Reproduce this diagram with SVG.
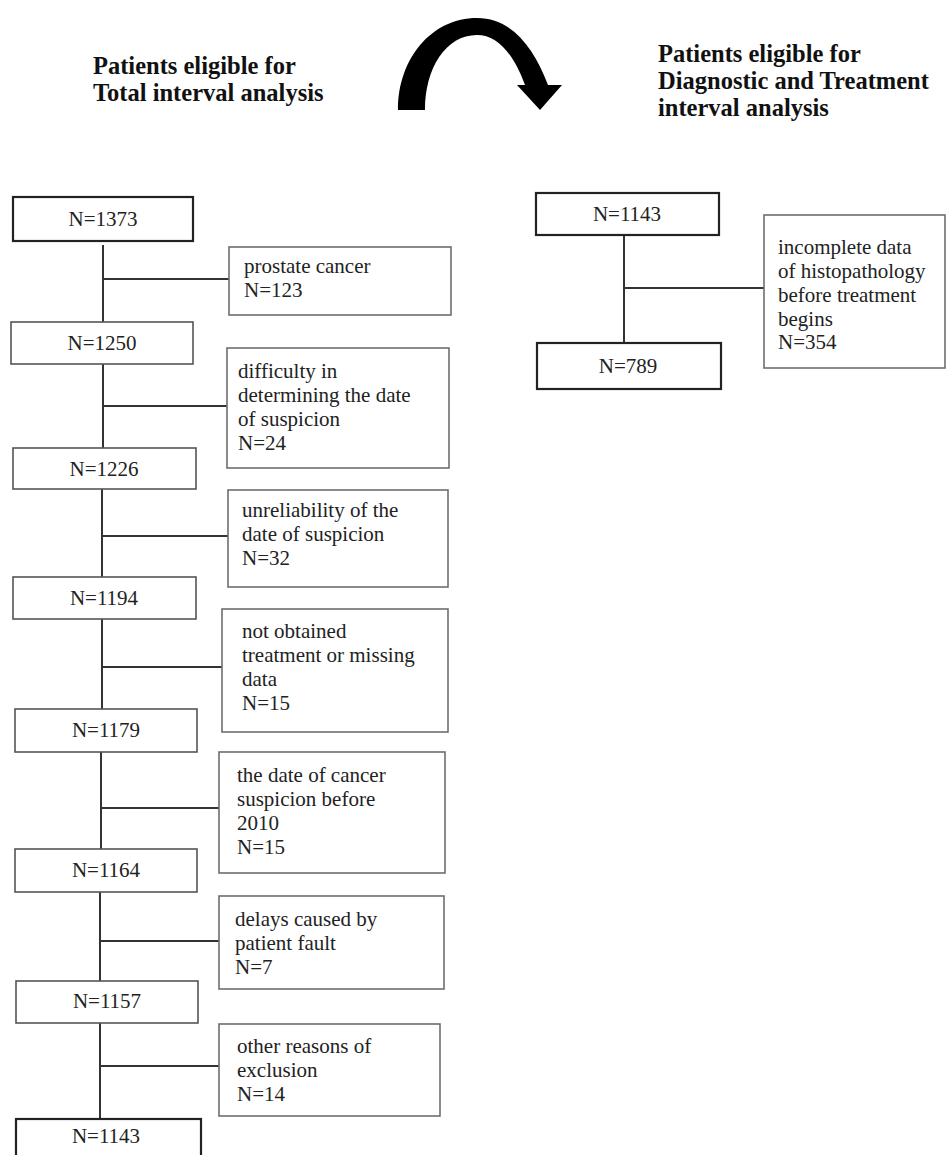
<svg xmlns="http://www.w3.org/2000/svg" width="946" height="1155" viewBox="0 0 946 1155">
<style>
.bg{fill:#ffffff}
.main{fill:#ffffff;stroke:#555;stroke-width:1.6}
.strong{fill:#ffffff;stroke:#222;stroke-width:2.2}
.side{fill:#ffffff;stroke:#6e6e6e;stroke-width:1.6}
.t{font-family:"Liberation Serif","Times New Roman",serif;font-size:21px;fill:#222}
.c{text-anchor:middle}
.h{font-family:"Liberation Serif","Times New Roman",serif;font-size:24.5px;font-weight:bold;fill:#111}
.ln{stroke:#333;stroke-width:2;fill:none}
</style>
<rect class="bg" x="0" y="0" width="946" height="1155"/>
<g id="title-left">
<text class="h" x="93" y="74">Patients eligible for</text>
<text class="h" x="93" y="101">Total interval analysis</text>
</g>
<g id="title-right">
<text class="h" x="658" y="62">Patients eligible for</text>
<text class="h" x="658" y="89">Diagnostic and Treatment</text>
<text class="h" x="658" y="116">interval analysis</text>
</g>
<g id="curved-arrow">
<path fill="#000" d="M398,110 C398,58 432,18 477,18 C512,18 534,48 548,85 L562,85 L540,110 L517,85 L525,85 C514,55 498,35 477,35 C446,35 425,68 425,110 Z"/>
</g>
<g id="connectors">
<line class="ln" x1="103" y1="245" x2="103" y2="322"/>
<line class="ln" x1="103" y1="279" x2="229" y2="279"/>
<line class="ln" x1="103" y1="364" x2="103" y2="448"/>
<line class="ln" x1="103" y1="406" x2="227" y2="406"/>
<line class="ln" x1="102" y1="489" x2="102" y2="577"/>
<line class="ln" x1="102" y1="536" x2="228" y2="536"/>
<line class="ln" x1="102" y1="619" x2="102" y2="709"/>
<line class="ln" x1="102" y1="667" x2="222" y2="667"/>
<line class="ln" x1="101" y1="752" x2="101" y2="849"/>
<line class="ln" x1="101" y1="808" x2="219" y2="808"/>
<line class="ln" x1="100" y1="892" x2="100" y2="981"/>
<line class="ln" x1="100" y1="941" x2="219" y2="941"/>
<line class="ln" x1="100" y1="1023" x2="100" y2="1119"/>
<line class="ln" x1="100" y1="1066" x2="219" y2="1066"/>
<line class="ln" x1="624" y1="235" x2="624" y2="343"/>
<line class="ln" x1="624" y1="288" x2="764" y2="288"/>
</g>
<g id="n1373"><rect class="strong" x="13" y="197" width="180" height="44"/><text class="t c" x="103" y="226">N=1373</text></g>
<g id="n1250"><rect class="main" x="11" y="322" width="182" height="42"/><text class="t c" x="102" y="350">N=1250</text></g>
<g id="n1226"><rect class="main" x="13" y="448" width="183" height="41"/><text class="t c" x="104" y="476">N=1226</text></g>
<g id="n1194"><rect class="main" x="13" y="577" width="183" height="42"/><text class="t c" x="104" y="605">N=1194</text></g>
<g id="n1179"><rect class="main" x="15" y="709" width="182" height="43"/><text class="t c" x="106" y="737">N=1179</text></g>
<g id="n1164"><rect class="main" x="15" y="849" width="182" height="43"/><text class="t c" x="106" y="877">N=1164</text></g>
<g id="n1157"><rect class="main" x="16" y="981" width="182" height="42"/><text class="t c" x="107" y="1008">N=1157</text></g>
<g id="n1143-left"><rect class="strong" x="16" y="1119" width="185" height="44"/><text class="t c" x="106" y="1143">N=1143</text></g>
<g id="ex-prostate"><rect class="side" x="229" y="247" width="222" height="68"/>
<text class="t" x="244" y="273">prostate cancer</text><text class="t" x="244" y="297">N=123</text></g>
<g id="ex-difficulty"><rect class="side" x="227" y="348" width="222" height="120"/>
<text class="t" x="238" y="378">difficulty in</text><text class="t" x="238" y="402">determining the date</text><text class="t" x="238" y="426">of suspicion</text><text class="t" x="238" y="450">N=24</text></g>
<g id="ex-unreliability"><rect class="side" x="228" y="490" width="220" height="97"/>
<text class="t" x="242" y="517">unreliability of the</text><text class="t" x="242" y="541">date of suspicion</text><text class="t" x="242" y="565">N=32</text></g>
<g id="ex-notobtained"><rect class="side" x="222" y="609" width="226" height="123"/>
<text class="t" x="242" y="638">not obtained</text><text class="t" x="242" y="662">treatment or missing</text><text class="t" x="242" y="686">data</text><text class="t" x="242" y="710">N=15</text></g>
<g id="ex-date"><rect class="side" x="219" y="752" width="226" height="121"/>
<text class="t" x="237" y="782">the date of cancer</text><text class="t" x="237" y="806">suspicion before</text><text class="t" x="237" y="830">2010</text><text class="t" x="237" y="854">N=15</text></g>
<g id="ex-delays"><rect class="side" x="219" y="896" width="225" height="93"/>
<text class="t" x="235" y="926">delays caused by</text><text class="t" x="235" y="950">patient fault</text><text class="t" x="235" y="974">N=7</text></g>
<g id="ex-other"><rect class="side" x="219" y="1024" width="221" height="92"/>
<text class="t" x="237" y="1053">other reasons of</text><text class="t" x="237" y="1077">exclusion</text><text class="t" x="237" y="1101">N=14</text></g>
<g id="n1143-right"><rect class="strong" x="536" y="193" width="183" height="42"/><text class="t c" x="627" y="221">N=1143</text></g>
<g id="n789"><rect class="strong" x="537" y="343" width="184" height="46"/><text class="t c" x="628" y="373">N=789</text></g>
<g id="ex-histopathology"><rect class="side" x="764" y="215" width="181" height="153"/>
<text class="t" x="778" y="254">incomplete data</text><text class="t" x="778" y="278">of histopathology</text><text class="t" x="778" y="302">before treatment</text><text class="t" x="778" y="326">begins</text><text class="t" x="778" y="349">N=354</text></g>
</svg>
